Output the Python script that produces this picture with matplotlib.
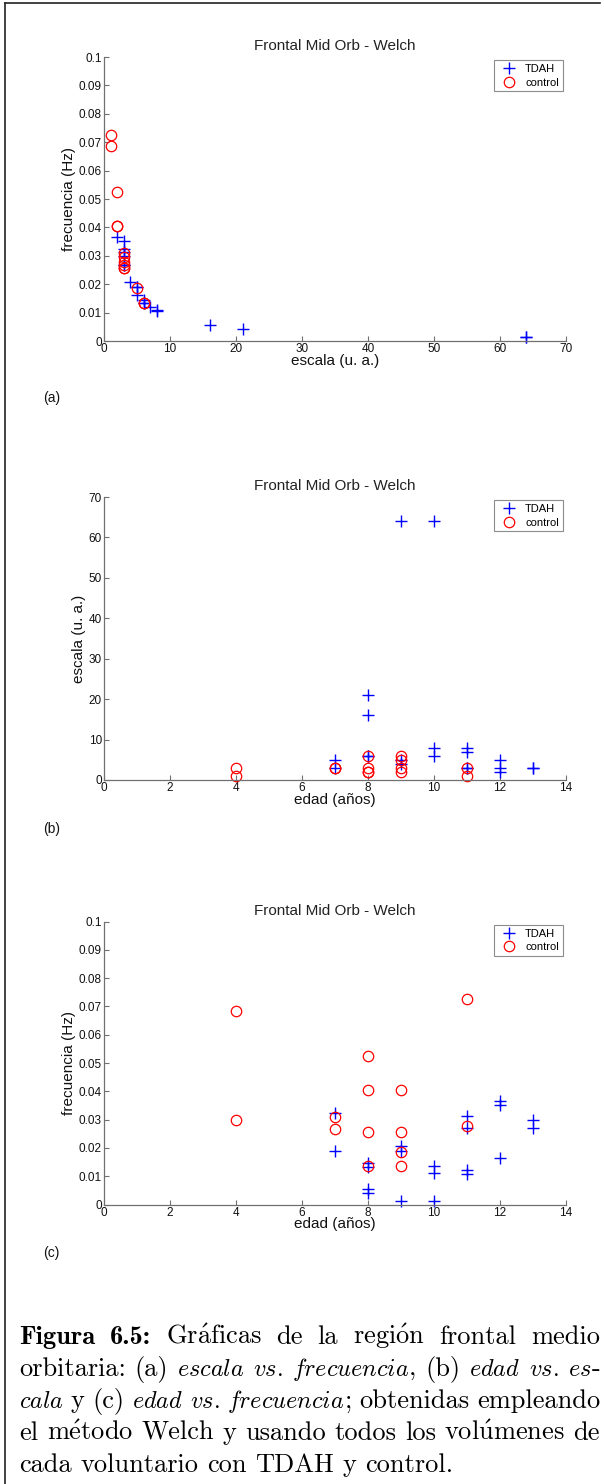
import matplotlib
matplotlib.use('Agg')
import matplotlib.pyplot as plt
from matplotlib.lines import Line2D

plt.rcParams['mathtext.fontset'] = 'cm'
plt.rcParams['font.family'] = ['Liberation Sans', 'DejaVu Sans']

# ---------------- data ----------------
tdah_age = [7, 7, 8, 8, 8, 8, 9, 9, 9, 10, 10, 10, 11, 11, 11, 11, 12, 12, 12, 13, 13]
tdah_scale = [3, 5, 6, 6, 16, 21, 4, 5, 64, 6, 8, 64, 3, 3, 7, 8, 2, 3, 5, 3, 3]
tdah_freq = [0.0325, 0.0190, 0.0145, 0.0133, 0.0055, 0.0042, 0.0206, 0.0190, 0.0014,
             0.0135, 0.0110, 0.0014, 0.0312, 0.0269, 0.0121, 0.0107, 0.0365, 0.0351,
             0.0163, 0.0298, 0.0269]

control_age = [4, 4, 7, 7, 8, 8, 8, 8, 9, 9, 9, 9, 11, 11]
control_scale = [1, 3, 3, 3, 2, 2, 3, 6, 2, 3, 5, 6, 1, 3]
control_freq = [0.0685, 0.0297, 0.0310, 0.0268, 0.0526, 0.0404, 0.0256, 0.0135,
                0.0404, 0.0256, 0.0187, 0.0135, 0.0727, 0.0279]

series_labels = ['TDAH', 'control']
title_text = 'Frontal Mid Orb - Welch'
freq_ticks = [0, 0.01, 0.02, 0.03, 0.04, 0.05, 0.06, 0.07, 0.08, 0.09, 0.1]
freq_ticklabels = ['0', '0.01', '0.02', '0.03', '0.04', '0.05', '0.06', '0.07', '0.08', '0.09', '0.1']
scale_ticks = [0, 10, 20, 30, 40, 50, 60, 70]
age_ticks = [0, 2, 4, 6, 8, 10, 12, 14]
panel_letters = ['(a)', '(b)', '(c)']

# ---------------- figure ----------------
W, H = 604, 1484
fig = plt.figure(figsize=(W / 100, H / 100), dpi=100)
AX_COL = '#707070'


def px_axes(left, top, right, bottom):
    return fig.add_axes([left / W, 1 - bottom / H, (right - left) / W, (bottom - top) / H])


def style(ax, xlim, xticks, ylim, yticks, yticklabels, xlabel, ylabel):
    for s in ['top', 'right']:
        ax.spines[s].set_visible(False)
    for s in ['left', 'bottom']:
        ax.spines[s].set_color(AX_COL)
        ax.spines[s].set_linewidth(0.9)
    ax.set_xlim(*xlim)
    ax.set_ylim(*ylim)
    ax.set_xticks(xticks)
    ax.set_xticklabels([str(t) for t in xticks])
    ax.set_yticks(yticks)
    ax.set_yticklabels(yticklabels)
    ax.tick_params(direction='in', length=3.5, width=0.8, color=AX_COL,
                   labelsize=8.5, labelcolor='#111111', pad=1.5)
    ax.set_xlabel(xlabel, fontsize=11, labelpad=-1, color='#111111')
    ax.set_ylabel(ylabel, fontsize=11, labelpad=2, color='#111111')
    ax.set_title(title_text, fontsize=11, pad=5, color='#222222')
    ax.set_facecolor('none')


def scatter(ax, x1, y1, x2, y2):
    ax.plot(x1, y1, linestyle='none', marker='+', markersize=8.5, markeredgewidth=1.0,
            color='#0000ff', label=series_labels[0], clip_on=False)
    ax.plot(x2, y2, linestyle='none', marker='o', markersize=7.5, markeredgewidth=0.9,
            markerfacecolor='none', markeredgecolor='#ff0000', label=series_labels[1], clip_on=False)
    leg = ax.legend(loc='upper right', fontsize=8, frameon=True, fancybox=False,
                    borderaxespad=0.3, handlelength=1.9, handletextpad=0.5,
                    labelspacing=0.3, borderpad=0.35)
    leg.get_frame().set_edgecolor(AX_COL)
    leg.get_frame().set_linewidth(0.8)


# panel (a)
ax1 = px_axes(104, 57, 566, 341)
scatter(ax1, tdah_scale, tdah_freq, control_scale, control_freq)
style(ax1, (0, 70), scale_ticks, (0, 0.1), freq_ticks, freq_ticklabels,
      'escala (u. a.)', 'frecuencia (Hz)')

# panel (b)
ax2 = px_axes(104, 497, 566, 780)
scatter(ax2, tdah_age, tdah_scale, control_age, control_scale)
style(ax2, (0, 14), age_ticks, (0, 70), scale_ticks, [str(t) for t in scale_ticks],
      'edad (años)', 'escala (u. a.)')

# panel (c)
ax3 = px_axes(104, 921.5, 566, 1204.5)
scatter(ax3, tdah_age, tdah_freq, control_age, control_freq)
style(ax3, (0, 14), age_ticks, (0, 0.1), freq_ticks, freq_ticklabels,
      'edad (años)', 'frecuencia (Hz)')

for lab, ypx in zip(panel_letters, [398, 829, 1253]):
    fig.text(43 / W, 1 - ypx / H, lab, fontsize=10, ha='left', va='center', color='#111111')

# page frame
fig.add_artist(Line2D([4.5 / W, 4.5 / W], [0, 1 - 2.5 / H], transform=fig.transFigure,
                      color='#222222', linewidth=1.2))
fig.add_artist(Line2D([4.5 / W, 600 / W], [1 - 2.5 / H, 1 - 2.5 / H], transform=fig.transFigure,
                      color='#222222', linewidth=1.2))

# ---------------- caption (justified) ----------------
ACC = {'á': r'\acute{a}', 'é': r'\acute{e}', 'ó': r'\acute{o}', 'ú': r'\acute{u}'}
CAP_SIZE = 19
IT_SIZE = 17.5


def piece_text(s, kind):
    if kind == 'it':
        return r'$\mathit{' + s + '}$', 'cmr10', IT_SIZE
    if any(c in ACC for c in s):
        body = ''.join(ACC.get(c, c) for c in s)
        return r'$\mathrm{' + body + '}$', 'cmr10', CAP_SIZE
    if kind == 'bf':
        return s, 'cmb10', CAP_SIZE
    return s, 'cmr10', CAP_SIZE


caption_lines = [
    [[('Figura', 'bf')], [('6.5:', 'bf')], [('Gráficas', 'rm')], [('de', 'rm')], [('la', 'rm')],
     [('región', 'rm')], [('frontal', 'rm')], [('medio', 'rm')]],
    [[('orbitaria:', 'rm')], [('(a)', 'rm')], [('escala', 'it')], [('vs.', 'it')],
     [('frecuencia', 'it'), (',', 'rm')], [('(b)', 'rm')], [('edad', 'it')], [('vs.', 'it')],
     [('es', 'it'), ('-', 'rm')]],
    [[('cala', 'it')], [('y', 'rm')], [('(c)', 'rm')], [('edad', 'it')], [('vs.', 'it')],
     [('frecuencia', 'it'), (';', 'rm')], [('obtenidas', 'rm')], [('empleando', 'rm')]],
    [[(w, 'rm')] for w in ['el', 'método', 'Welch', 'y', 'usando', 'todos', 'los', 'volúmenes', 'de']],
    [[(w, 'rm')] for w in ['cada', 'voluntario', 'con', 'TDAH', 'y', 'control.']],
]
baselines = [1344, 1376, 1408, 1440, 1472]
justify = [True, True, True, True, False]
LEFT, RIGHT = 19, 600

fig.canvas.draw()
renderer = fig.canvas.get_renderer()

for words, ybase, just in zip(caption_lines, baselines, justify):
    word_objs = []
    for word in words:
        pieces = []
        for s, kind in word:
            txt, fam, size = piece_text(s, kind)
            t = fig.text(0, 1 - ybase / H, txt, fontsize=size, family=fam,
                         ha='left', va='baseline', color='black')
            w = t.get_window_extent(renderer=renderer).width
            pieces.append((t, w))
        word_objs.append(pieces)
    widths = [sum(w for _, w in p) for p in word_objs]
    total = sum(widths)
    if just:
        gap = (RIGHT - LEFT - total) / (len(word_objs) - 1)
    else:
        gap = CAP_SIZE * 100 / 72 * 0.33
    x = LEFT
    for pieces, wd in zip(word_objs, widths):
        xx = x
        for t, w in pieces:
            t.set_x(xx / W)
            xx += w
        x += wd + gap

fig.savefig('out.png', dpi=100)
